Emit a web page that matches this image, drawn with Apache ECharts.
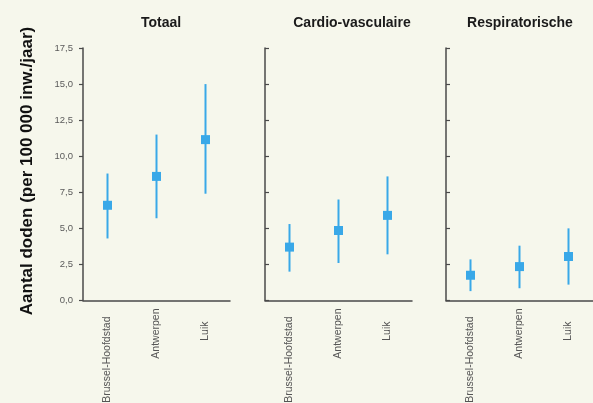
<!DOCTYPE html>
<html><head><meta charset="utf-8">
<script src="https://cdn.jsdelivr.net/npm/echarts@6/dist/echarts.min.js"></script>
<style>html,body{margin:0;padding:0;background:#f6f7ec;}#c{width:593px;height:403px;}</style>
</head><body><div id="c"></div>
<script>
const categories = ['Brussel-Hoofdstad', 'Antwerpen', 'Luik'];
const panelTitles = ['Totaal', 'Cardio-vasculaire', 'Respiratorische'];
const yTickLabels = ['0,0', '2,5', '5,0', '7,5', '10,0', '12,5', '15,0', '17,5'];
const yAxisTitle = 'Aantal doden (per 100 000 inw./jaar)';
// point estimates
const totaalMid = [6.6, 8.6, 11.15];
const cardioMid = [3.7, 4.85, 5.9];
const respMid = [1.75, 2.35, 3.05];
// lower / upper bounds
const totaalLow = [4.3, 5.7, 7.4];
const totaalHigh = [8.8, 11.5, 15.0];
const cardioLow = [2.0, 2.6, 3.2];
const cardioHigh = [5.3, 7.0, 8.6];
const respLow = [0.65, 0.85, 1.1];
const respHigh = [2.85, 3.8, 5.0];

const mids = [totaalMid, cardioMid, respMid];
const lows = [totaalLow, cardioLow, respLow];
const highs = [totaalHigh, cardioHigh, respHigh];

const blue = '#39a8e8';
const axisCol = '#4a4a4a';
const gridLefts = [83, 265, 446];
const titleCenters = [156, 347, 515];
const labelPad = {'Brussel-Hoofdstad': 8, 'Antwerpen': 0, 'Luik': 13};
const font = '"Liberation Sans", Arial, sans-serif';

const grids = [], xAxes = [], yAxes = [], series = [], titles = [];
for (let i = 0; i < 3; i++) {
  grids.push({left: gridLefts[i], width: 147, top: 48, height: 252.5, containLabel: false, outerBoundsMode: 'none'});
  xAxes.push({
    type: 'category', gridIndex: i, data: categories,
    axisLine: {lineStyle: {color: axisCol, width: 1.5}},
    axisTick: {inside: true, length: 5, alignWithLabel: true, lineStyle: {color: '#111', width: 1.2}},
    axisLabel: {rotate: 90, color: '#555', fontSize: 10.5, fontFamily: font, margin: 8,
      formatter: (v) => '{p' + labelPad[v] + '|' + v + '}',
      rich: {
        p0: {fontSize: 10.5, color: '#555', fontFamily: font, padding: [0, 0, 0, 0]},
        p8: {fontSize: 10.5, color: '#555', fontFamily: font, padding: [0, 8, 0, 0]},
        p13: {fontSize: 10.5, color: '#555', fontFamily: font, padding: [0, 13, 0, 0]}
      }},
    splitLine: {show: false}
  });
  yAxes.push({
    type: 'value', gridIndex: i, min: 0, max: 17.5, interval: 2.5,
    axisLine: {show: true, lineStyle: {color: axisCol, width: 1.5}},
    axisTick: {show: true, inside: i > 0, length: 4, lineStyle: {color: axisCol, width: 1.2}},
    axisLabel: {show: i === 0, color: '#5a5a5a', fontSize: 9.5, fontFamily: font, margin: 10,
      formatter: (v) => yTickLabels[Math.round(v / 2.5)]},
    splitLine: {show: false}
  });
  titles.push({text: panelTitles[i], left: titleCenters[i], top: 11, textAlign: 'center',
    textStyle: {fontSize: 14, fontWeight: 'bold', color: '#1a1a1a', fontFamily: font}});
  const ebData = categories.map((c, k) => [k, lows[i][k], highs[i][k]]);
  series.push({
    type: 'custom', xAxisIndex: i, yAxisIndex: i, data: ebData, z: 2,
    renderItem: function (params, api) {
      const x = api.value(0);
      const p1 = api.coord([x, api.value(1)]);
      const p2 = api.coord([x, api.value(2)]);
      return {type: 'line', shape: {x1: p1[0], y1: p1[1], x2: p2[0], y2: p2[1]},
        style: {stroke: blue, lineWidth: 2}};
    },
    encode: {x: 0, y: [1, 2]}
  });
  series.push({
    type: 'scatter', xAxisIndex: i, yAxisIndex: i, data: mids[i], symbol: 'rect', symbolSize: 9, z: 3,
    itemStyle: {color: blue, opacity: 1}
  });
}

const chart = echarts.init(document.getElementById('c'));
chart.setOption({
  backgroundColor: '#f6f7ec',
  animation: false,
  title: titles,
  grid: grids, xAxis: xAxes, yAxis: yAxes, series: series,
  graphic: [{
    type: 'text', x: 27, y: 171, rotation: Math.PI / 2,
    style: {text: yAxisTitle, font: 'bold 17px "Liberation Sans", Arial, sans-serif', fill: '#111', align: 'center', verticalAlign: 'middle'}
  }]
});
</script></body></html>
